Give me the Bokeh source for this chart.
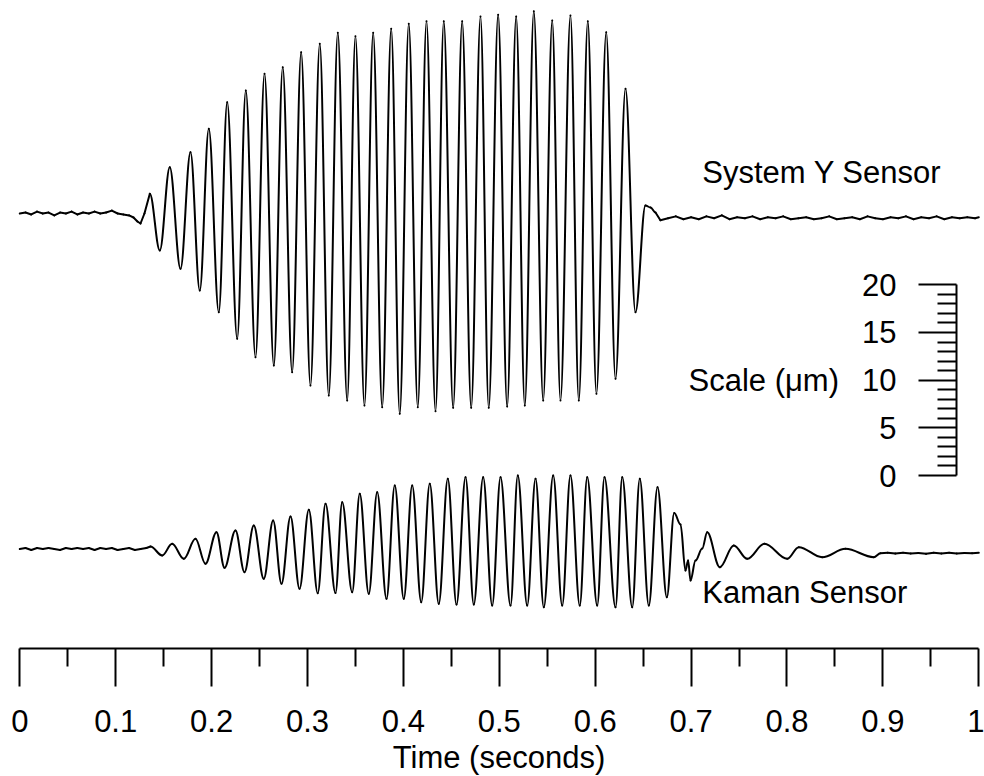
from bokeh.plotting import figure
from bokeh.models import LinearAxis, FixedTicker, Range1d, ColumnDataSource, Grid
from bokeh.core.properties import value
from bokeh.embed import file_html
from bokeh.resources import INLINE

# ---------------- data (time in seconds, displacement in micrometres) ----------------
# System Y sensor: quiet start, extremes of each half-cycle, quiet end
sysy_t_start = [0.000, 0.006, 0.012, 0.018, 0.024, 0.030, 0.036, 0.042, 0.048, 0.054,
                0.060, 0.066, 0.072, 0.078, 0.084, 0.090, 0.096, 0.102, 0.108, 0.114,
                0.1186, 0.1227, 0.1259, 0.1300]
sysy_v_start = [0.0, 0.1, -0.1, 0.2, 0.0, 0.1, -0.2, 0.1, 0.0, 0.2,
                -0.1, 0.1, 0.0, 0.2, 0.0, 0.1, 0.3, 0.0, -0.1, -0.2,
                -0.42, -0.84, -1.05, 0.0]
sysy_t_osc = [0.1356, 0.1460, 0.1564, 0.1676, 0.1780, 0.1877, 0.1971, 0.2075, 0.2163, 0.2267,
              0.2357, 0.2458, 0.2552, 0.2649, 0.2742, 0.2840, 0.2934, 0.3031, 0.3128, 0.3222,
              0.3316, 0.3414, 0.3500, 0.3594, 0.3685, 0.3779, 0.3873, 0.3962, 0.4056, 0.4150,
              0.4241, 0.4335, 0.4421, 0.4519, 0.4613, 0.4707, 0.4804, 0.4890, 0.4988, 0.5082,
              0.5176, 0.5266, 0.5360, 0.5458, 0.5552, 0.5638, 0.5742, 0.5829, 0.5923, 0.6013,
              0.6115, 0.6212, 0.6316, 0.6420, 0.6524, 0.6577, 0.6629]
sysy_v_osc = [2.07, -3.88, 4.86, -5.80, 6.43, -8.08, 8.88, -10.35, 11.67, -13.14,
              12.90, -15.07, 14.65, -15.94, 15.34, -16.64, 16.92, -18.04, 17.80, -19.09,
              18.95, -19.61, 18.59, -20.14, 18.95, -20.31, 19.37, -21.01, 19.90, -20.31,
              20.17, -20.73, 20.17, -20.38, 20.17, -20.38, 20.66, -20.38, 20.84, -20.24,
              20.66, -20.14, 21.22, -19.61, 20.24, -19.61, 20.77, -19.61, 20.17, -18.91,
              19.01, -17.34, 13.08, -10.35, 0.84, 0.63, 0.10]
sysy_t_end = [0.668, 0.676, 0.684, 0.692, 0.700, 0.708, 0.716, 0.724, 0.732, 0.740,
              0.748, 0.756, 0.764, 0.772, 0.780, 0.788, 0.796, 0.804, 0.812, 0.820,
              0.828, 0.836, 0.844, 0.852, 0.860, 0.868, 0.876, 0.884, 0.892, 0.900,
              0.908, 0.916, 0.924, 0.932, 0.940, 0.948, 0.956, 0.964, 0.972, 0.980,
              0.988, 0.996, 1.000]
sysy_v_end = [-0.7, -0.5, -0.3, -0.6, -0.4, -0.6, -0.3, -0.5, -0.2, -0.6,
              -0.4, -0.5, -0.3, -0.6, -0.4, -0.5, -0.3, -0.6, -0.5, -0.4,
              -0.6, -0.5, -0.3, -0.6, -0.5, -0.4, -0.6, -0.3, -0.5, -0.6,
              -0.4, -0.5, -0.3, -0.6, -0.4, -0.5, -0.3, -0.6, -0.4, -0.5,
              -0.4, -0.5, -0.4]

# Kaman sensor
kam_t_start = [0.000, 0.006, 0.012, 0.018, 0.024, 0.030, 0.036, 0.042, 0.048, 0.054,
               0.060, 0.066, 0.072, 0.078, 0.084, 0.090, 0.096, 0.102, 0.108, 0.114,
               0.120, 0.126, 0.132]
kam_v_start = [0.0, 0.1, -0.1, 0.1, 0.0, 0.1, 0.0, -0.1, 0.1, 0.0,
               0.1, 0.0, 0.1, -0.1, 0.1, 0.0, 0.1, -0.1, 0.0, 0.1,
               -0.1, 0.0, 0.1]
kam_t_osc = [0.1363, 0.1485, 0.1589, 0.1710, 0.1832, 0.1936, 0.2051, 0.2135, 0.2249, 0.2343,
             0.2440, 0.2544, 0.2642, 0.2729, 0.2823, 0.2917, 0.3014, 0.3107, 0.3188, 0.3292,
             0.3362, 0.3466, 0.3545, 0.3639, 0.3727, 0.3824, 0.3910, 0.4004, 0.4092, 0.4186,
             0.4275, 0.4369, 0.4463, 0.4554, 0.4648, 0.4734, 0.4832, 0.4926, 0.5013, 0.5117,
             0.5193, 0.5291, 0.5378, 0.5464, 0.5562, 0.5656, 0.5742, 0.5839, 0.5917, 0.6021,
             0.6097, 0.6212, 0.6282, 0.6386, 0.6465, 0.6559, 0.6650, 0.6747, 0.6824, 0.6890,
             0.6941, 0.6969, 0.6994, 0.7046, 0.7116, 0.7168, 0.7299, 0.7445, 0.7585, 0.7765,
             0.8002, 0.8123, 0.8367, 0.8610, 0.8905, 0.8975]
kam_v_osc = [0.26, -0.68, 0.55, -1.03, 1.07, -1.55, 1.76, -1.97, 1.94, -2.43,
             2.46, -3.13, 2.99, -3.65, 3.41, -4.17, 4.11, -4.64, 4.74, -4.61,
             4.91, -4.53, 5.79, -4.70, 5.96, -5.22, 6.66, -5.22, 6.66, -5.58,
             6.84, -5.75, 7.36, -5.82, 7.53, -5.82, 7.53, -5.93, 7.53, -5.93,
             7.71, -5.93, 7.36, -6.10, 7.71, -5.93, 7.71, -5.93, 7.53, -5.93,
             7.53, -6.10, 7.53, -6.10, 7.36, -5.93, 6.48, -5.06, 3.78, 2.57,
             -2.25, -1.21, -3.30, -1.21, 0.05, 1.76, -1.91, 0.37, -1.03, 0.55,
             -1.03, 0.19, -0.86, 0.02, -0.86, -0.44]
kam_t_end = [0.905, 0.913, 0.921, 0.929, 0.937, 0.945, 0.953, 0.961, 0.969, 0.977,
             0.985, 0.993, 1.000]
kam_v_end = [-0.40, -0.48, -0.38, -0.46, -0.42, -0.50, -0.40, -0.46, -0.38, -0.47,
             -0.42, -0.45, -0.40]

time_ticks = [0, 0.1, 0.2, 0.3, 0.4, 0.5, 0.6, 0.7, 0.8, 0.9, 1]
time_labels = ["0", "0.1", "0.2", "0.3", "0.4", "0.5", "0.6", "0.7", "0.8", "0.9", "1"]
time_minor = [0.05, 0.15, 0.25, 0.35, 0.45, 0.55, 0.65, 0.75, 0.85, 0.95]
scale_ticks = [0, 5, 10, 15, 20]
scale_minor = [1, 2, 3, 4, 6, 7, 8, 9, 11, 12, 13, 14, 16, 17, 18, 19]

# ---------------- layout / style constants ----------------
FONT = "Liberation Sans"
FS = "31px"
SYS_OFFSET = 27.48     # vertical placement of the System Y trace (um)
KAM_OFFSET = -7.71     # vertical placement of the Kaman trace (um)
TIME_AXIS_Y = -18.11   # where the time axis is drawn (um)
SCALE_X = 0.9767       # where the scale bar is drawn (s)
HANDLE_OSC = 0.36      # bezier handle length -> sine-like half cycles
HANDLE_NOISE = 0.0     # straight, jagged segments for the quiet parts


def curve_source(parts, offset):
    ts, ys, hs = [], [], []
    for t_part, v_part, h in parts:
        ts += t_part
        ys += [v + offset for v in v_part]
        hs += [h] * len(t_part)
    assert len(ts) == len(ys)
    d = dict(x0=[], y0=[], x1=[], y1=[], cx0=[], cy0=[], cx1=[], cy1=[])
    for i in range(len(ts) - 1):
        dx = ts[i + 1] - ts[i]
        h = min(hs[i], hs[i + 1]) if hs[i] != hs[i + 1] else hs[i]
        d["x0"].append(ts[i]); d["y0"].append(ys[i])
        d["x1"].append(ts[i + 1]); d["y1"].append(ys[i + 1])
        d["cx0"].append(ts[i] + h * dx); d["cy0"].append(ys[i])
        d["cx1"].append(ts[i + 1] - h * dx); d["cy1"].append(ys[i + 1])
    return ColumnDataSource(d)


p = figure(width=984, height=776, output_backend="svg", toolbar_location=None,
           x_range=Range1d(-0.0201, 1.00594), y_range=Range1d(-31.57, 49.82),
           x_axis_location=None, y_axis_location=None,
           min_border_left=0, min_border_right=0, min_border_top=0, min_border_bottom=0,
           background_fill_color="white", border_fill_color="white")
p.outline_line_color = None
for r in list(p.center):
    if isinstance(r, Grid):
        r.visible = False

sys_parts = [(sysy_t_start, sysy_v_start, HANDLE_NOISE),
             (sysy_t_osc, sysy_v_osc, HANDLE_OSC),
             (sysy_t_end, sysy_v_end, HANDLE_NOISE)]
kam_parts = [(kam_t_start, kam_v_start, HANDLE_NOISE),
             (kam_t_osc, kam_v_osc, HANDLE_OSC),
             (kam_t_end, kam_v_end, HANDLE_NOISE)]
for parts, off in ((sys_parts, SYS_OFFSET), (kam_parts, KAM_OFFSET)):
    p.bezier(x0="x0", y0="y0", x1="x1", y1="y1", cx0="cx0", cy0="cy0", cx1="cx1", cy1="cy1",
             source=curve_source(parts, off), line_color="black", line_width=2,
             line_cap="round")

# time axis
xaxis = LinearAxis(fixed_location=TIME_AXIS_Y, bounds=(0, 1),
                   ticker=FixedTicker(ticks=time_ticks, minor_ticks=time_minor),
                   major_label_overrides=dict(zip(time_ticks, time_labels)),
                   axis_label="Time (seconds)")
xaxis.axis_line_width = 2
xaxis.axis_line_color = "black"
xaxis.major_tick_line_width = 2
xaxis.major_tick_line_color = "black"
xaxis.minor_tick_line_width = 2
xaxis.minor_tick_line_color = "black"
xaxis.major_tick_in = 0
xaxis.major_tick_out = 38
xaxis.minor_tick_in = 0
xaxis.minor_tick_out = 18
xaxis.major_label_text_font = FONT
xaxis.major_label_text_font_size = FS
xaxis.major_label_text_color = "black"
xaxis.major_label_standoff = 24
xaxis.axis_label_text_font = FONT
xaxis.axis_label_text_font_size = FS
xaxis.axis_label_text_font_style = "normal"
xaxis.axis_label_text_color = "black"
xaxis.axis_label_standoff = 4
p.add_layout(xaxis, "below")

# scale bar axis
yaxis = LinearAxis(fixed_location=SCALE_X, bounds=(0, 20),
                   ticker=FixedTicker(ticks=scale_ticks, minor_ticks=scale_minor),
                   axis_label="Scale (\u03bcm)", axis_label_orientation="horizontal")
yaxis.axis_line_width = 2
yaxis.axis_line_color = "black"
yaxis.major_tick_line_width = 2
yaxis.major_tick_line_color = "black"
yaxis.minor_tick_line_width = 2
yaxis.minor_tick_line_color = "black"
yaxis.major_tick_in = 0
yaxis.major_tick_out = 38
yaxis.minor_tick_in = 0
yaxis.minor_tick_out = 19
yaxis.major_label_text_font = FONT
yaxis.major_label_text_font_size = FS
yaxis.major_label_text_color = "black"
yaxis.major_label_standoff = 22
yaxis.axis_label_text_font = FONT
yaxis.axis_label_text_font_size = FS
yaxis.axis_label_text_font_style = "normal"
yaxis.axis_label_text_color = "black"
yaxis.axis_label_standoff = 20
p.add_layout(yaxis, "left")

# trace names
p.text(x=[0.7116], y=[31.83], text=["System Y Sensor"], text_font=value(FONT),
       text_font_size=FS, text_color="black", text_align="left", text_baseline="middle")
p.text(x=[0.7116], y=[-12.24], text=["Kaman Sensor"], text_font=value(FONT),
       text_font_size=FS, text_color="black", text_align="left", text_baseline="middle")

open("out.html", "w").write(file_html(p, INLINE))
